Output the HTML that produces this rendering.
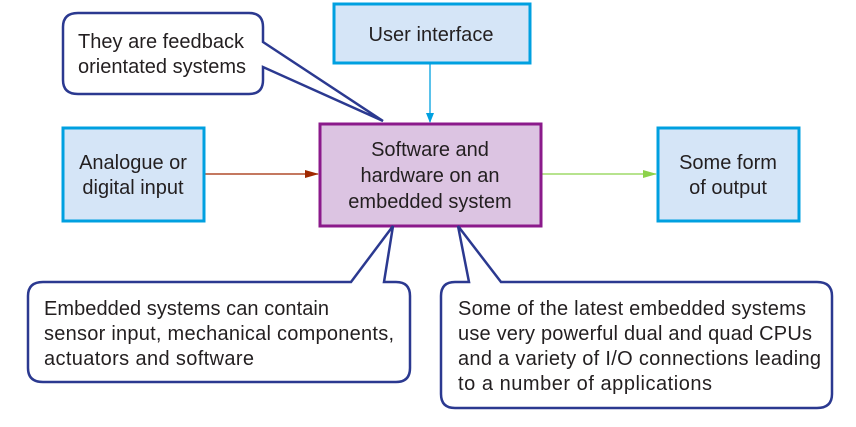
<!DOCTYPE html>
<html><head><meta charset="utf-8"><style>
body{margin:0;background:#fff;}
svg text{font-family:"Liberation Sans",sans-serif;fill:#231f20;}
</style></head><body>
<svg width="856" height="422" viewBox="0 0 856 422">
<defs>
<marker id="ab" markerWidth="10" markerHeight="10" refX="9" refY="5" orient="auto" markerUnits="userSpaceOnUse"><path d="M0,1 L10,5 L0,9 z" fill="#00a0e0"/></marker>
<marker id="ar" markerWidth="14" markerHeight="10" refX="13" refY="5" orient="auto" markerUnits="userSpaceOnUse"><path d="M0,1 L14,5 L0,9 z" fill="#a02800"/></marker>
<marker id="ag" markerWidth="14" markerHeight="10" refX="13" refY="5" orient="auto" markerUnits="userSpaceOnUse"><path d="M0,1 L14,5 L0,9 z" fill="#8cd24a"/></marker>
</defs>
<line x1="430" y1="63" x2="430" y2="122" stroke="#00a0e0" stroke-width="1.3" marker-end="url(#ab)"/>
<line x1="205" y1="174" x2="318" y2="174" stroke="#a02800" stroke-width="1.3" marker-end="url(#ar)"/>
<line x1="542" y1="174" x2="656" y2="174" stroke="#8cd24a" stroke-width="1.3" marker-end="url(#ag)"/>
<rect x="334" y="4" width="196" height="59" fill="#d5e5f7" stroke="#00a0e0" stroke-width="3"/>
<text x="431" y="41" font-size="20" text-anchor="middle" textLength="125">User interface</text>
<rect x="63" y="128" width="141" height="93" fill="#d5e5f7" stroke="#00a0e0" stroke-width="3"/>
<text x="133" y="169" font-size="20" text-anchor="middle">Analogue or</text>
<text x="133" y="194" font-size="20" text-anchor="middle">digital input</text>
<rect x="658" y="128" width="141" height="93" fill="#d5e5f7" stroke="#00a0e0" stroke-width="3"/>
<text x="728" y="169" font-size="20" text-anchor="middle">Some form</text>
<text x="728" y="194" font-size="20" text-anchor="middle">of output</text>
<rect x="320" y="124" width="221" height="102" fill="#dcc4e2" stroke="#8b1a8b" stroke-width="3"/>
<text x="430" y="156" font-size="20" text-anchor="middle">Software and</text>
<text x="430" y="182" font-size="20" text-anchor="middle">hardware on an</text>
<text x="430" y="208" font-size="20" text-anchor="middle">embedded system</text>
<path d="M78,13 H249 Q263,13 263,27 V42 L383,121 L263,67 V80 Q263,94 249,94 H78 Q63,94 63,80 V27 Q63,13 78,13 Z" fill="#fff" stroke="#2b3990" stroke-width="2.5"/>
<text x="78" y="48" font-size="20" textLength="166">They are feedback</text>
<text x="78" y="73" font-size="20" textLength="168">orientated systems</text>
<path d="M43,282 H351 L393,226 L384,282 H396 Q410,282 410,296 V368 Q410,382 396,382 H43 Q28,382 28,368 V296 Q28,282 43,282 Z" fill="#fff" stroke="#2b3990" stroke-width="2.5"/>
<text x="44" y="315" font-size="20" textLength="285">Embedded systems can contain</text>
<text x="44" y="340" font-size="20" textLength="350">sensor input, mechanical components,</text>
<text x="44" y="365" font-size="20" textLength="210">actuators and software</text>
<path d="M455,282 H469 L458,226 L501,282 H817 Q832,282 832,296 V394 Q832,408 817,408 H455 Q441,408 441,394 V296 Q441,282 455,282 Z" fill="#fff" stroke="#2b3990" stroke-width="2.5"/>
<text x="458" y="315" font-size="20" textLength="348">Some of the latest embedded systems</text>
<text x="458" y="340" font-size="20" textLength="354">use very powerful dual and quad CPUs</text>
<text x="458" y="365" font-size="20" textLength="363">and a variety of I/O connections leading</text>
<text x="458" y="390" font-size="20" textLength="254">to a number of applications</text>
</svg>
</body></html>
